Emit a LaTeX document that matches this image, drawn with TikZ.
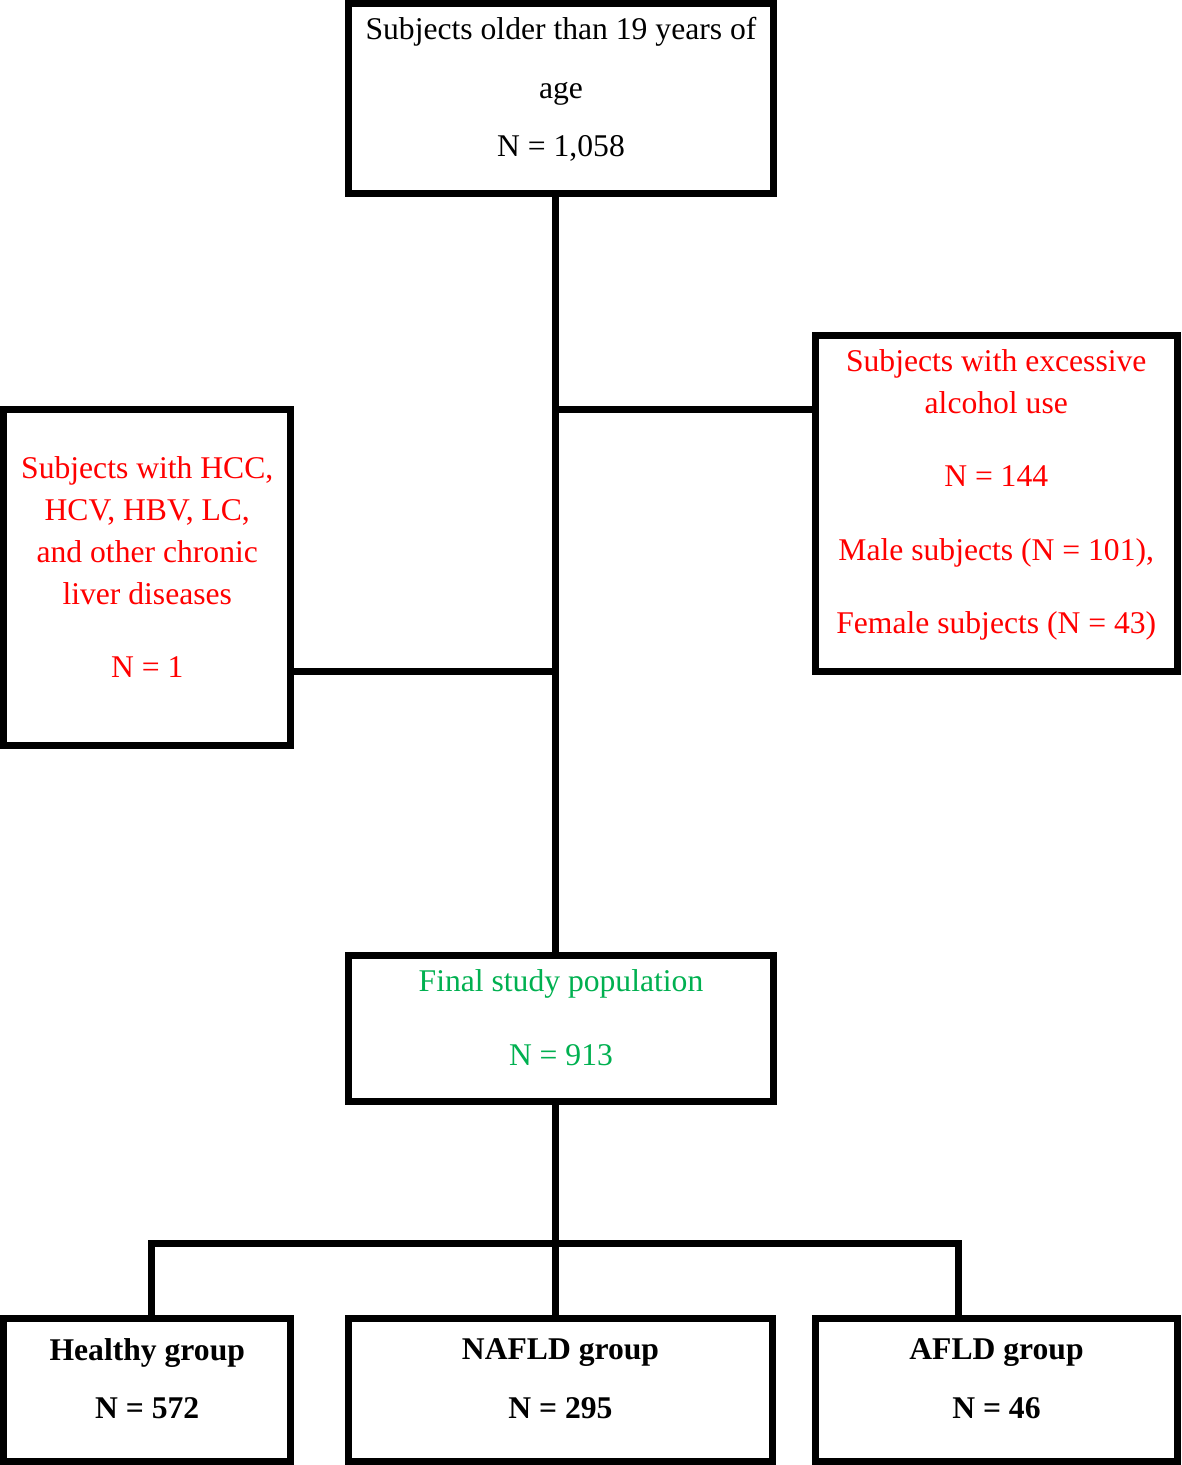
\documentclass[tikz,border=0pt]{standalone}
\usepackage{fontspec}
\setmainfont{Liberation Serif}
\usepackage{tikz}
\usetikzlibrary{positioning, calc}
\definecolor{exclred}{RGB}{255, 0, 0}
\definecolor{finalgreen}{RGB}{0, 176, 80}

\begin{document}
\begin{tikzpicture}[x=0.02cm, y=-0.02cm,
  box/.style={draw, line width=0.14cm, inner sep=0pt},
  txt/.style={align=center, inner sep=0pt, font=\fontsize{18}{23.9}\selectfont},
  link/.style={line width=0.14cm}]
  \useasboundingbox (0, 0) rectangle (1181, 1465);

  % Boxes
  \node[box, minimum width=8.52cm, minimum height=3.81cm] (top) at (561, 98.75) {};
  \node[box, minimum width=5.75cm, minimum height=6.72cm] (left) at (147.25, 577.5) {};
  \node[box, minimum width=7.25cm, minimum height=6.72cm] (right) at (996.25, 503.5) {};
  \node[box, minimum width=8.5cm, minimum height=2.92cm] (final) at (561, 1028) {};
  \node[box, minimum width=5.75cm, minimum height=2.86cm] (healthy) at (147.25, 1390) {};
  \node[box, minimum width=8.48cm, minimum height=2.86cm] (nafld) at (560.5, 1390) {};
  \node[box, minimum width=7.24cm, minimum height=2.86cm] (afld) at (996.5, 1390) {};

  % Box texts
  \node[txt] (toptxt) at (561, 89.5) {Subjects older than 19 years of\\[9.4pt] age\\[9.4pt] N = 1,058};
  \node[txt, exclred] (lefttxt) at (147.25, 566.75) {Subjects with HCC,\\ HCV, HBV, LC,\\ and other chronic\\ liver diseases\\[17.9pt] N = 1};
  \node[txt, exclred] (righttxt) at (996.25, 495) {Subjects with excessive\\ alcohol use\\[17.9pt] N = 144\\[17.9pt] Male subjects (N = 101),\\[17.9pt] Female subjects (N = 43)};
  \node[txt, finalgreen] (finaltxt) at (561, 1017.6) {Final study population\\[17.9pt] N = 913};
  \foreach \b/\g/\n in {healthy/Healthy group/572, nafld/NAFLD group/295, afld/AFLD group/46}
    \node[txt, font=\fontsize{18}{23.9}\selectfont\bfseries] (\b txt) at ($(\b) + (0, -11.5)$) {\g\\[9.4pt] N = \n};

  % Connectors
  \coordinate (trunk) at (555, 0);
  \coordinate (jr) at (555, 409);
  \coordinate (jl) at (555, 671.5);
  \coordinate (split) at (555, 1243);
  \coordinate (hdrop) at (151.5, 0);
  \coordinate (adrop) at (958.5, 0);
  \draw[link] (top.south -| trunk) -- (final.north -| trunk);
  \draw[link] (jr) -- (jr -| right.west);
  \draw[link] (jl) -- (jl -| left.east);
  \draw[link] (final.south -| trunk) -- (nafld.north -| trunk);
  \draw[link] (healthy.north -| hdrop) |- (split) -| (afld.north -| adrop);
\end{tikzpicture}
\end{document}
